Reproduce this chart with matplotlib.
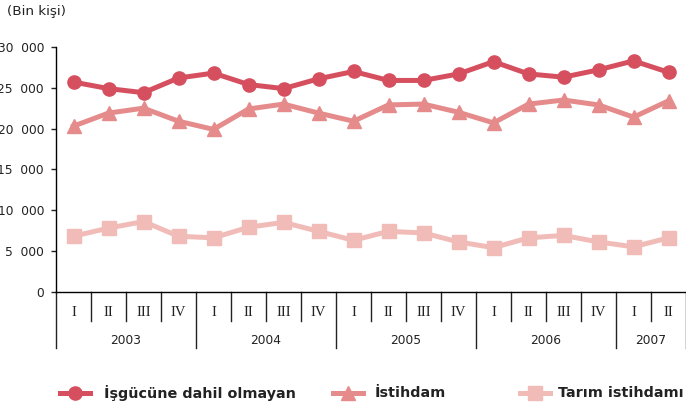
import matplotlib.pyplot as plt
from matplotlib.lines import Line2D
import matplotlib.transforms as mtransforms

# veri (bin kisi)
quarters = ['I', 'II', 'III', 'IV'] * 4 + ['I', 'II']
years = ['2003', '2004', '2005', '2006', '2007']
year_len = [4, 4, 4, 4, 2]

isgucu_disi = [25700, 24900, 24400, 26200, 26800, 25400, 24900, 26100, 27000,
               25900, 25900, 26700, 28200, 26700, 26300, 27200, 28300, 26900]
istihdam = [20300, 21900, 22500, 20900, 19900, 22400, 23000, 21900, 20900,
            22900, 23000, 22000, 20700, 23000, 23500, 22900, 21400, 23400]
tarim = [6800, 7800, 8600, 6800, 6600, 7900, 8500, 7400, 6300,
         7400, 7200, 6100, 5400, 6600, 6900, 6100, 5500, 6600]

names = ['İşgücüne dahil olmayan', 'İstihdam', 'Tarım istihdamı']
colors = ['#d64f5f', '#e58b8b', '#f1bcb8']
markers = ['o', '^', 's']

W, H = 686, 408
fig = plt.figure(figsize=(W / 100, H / 100), dpi=100)
ax_left, ax_right, ax_top, ax_bot = 56, 686, 47, 291.7
ax = fig.add_axes([ax_left / W, (H - ax_bot) / H, (ax_right - ax_left) / W,
                   (ax_bot - ax_top) / H])

x = [i + 0.5 for i in range(len(quarters))]
for vals, c, m in zip([isgucu_disi, istihdam, tarim], colors, markers):
    ax.plot(x, vals, color=c, lw=3.6, marker=m, markersize=9.5,
            markeredgecolor=c, clip_on=False, zorder=3)

ax.set_xlim(0, len(quarters))
ax.set_ylim(0, 30000)
ax.set_yticks(range(0, 30001, 5000))
ax.set_yticklabels(['0'] + ['{}  000'.format(v // 1000) for v in range(5000, 30001, 5000)])
ax.tick_params(axis='y', length=3.6, width=1, pad=5, labelsize=8.8, color='#222222',
               labelcolor='#222222')
ax.set_xticks([])
for s in ['top', 'right']:
    ax.spines[s].set_visible(False)
ax.spines['left'].set_linewidth(1)
ax.spines['bottom'].set_linewidth(1)

# kategori ekseni
ah = ax_bot - ax_top
tr = mtransforms.blended_transform_factory(ax.transData, ax.transAxes)
def fy(py):
    return (ax_bot - py) / ah

boundaries = [0]
for n in year_len:
    boundaries.append(boundaries[-1] + n)
for i in range(len(quarters) + 1):
    bottom = fy(348) if i in boundaries else fy(321)
    ax.plot([i, i], [0, bottom], color='#222222', lw=1, transform=tr, clip_on=False)
for i, q in enumerate(quarters):
    ax.text(i + 0.5, fy(312), q, transform=tr, ha='center', va='center',
            family='Liberation Serif', fontsize=10.5, color='#222222')
for k, yr in enumerate(years):
    ax.text((boundaries[k] + boundaries[k + 1]) / 2, fy(340), yr, transform=tr,
            ha='center', va='center', fontsize=8.8, color='#222222')

fig.text(7 / W, 1 - 11 / H, '(Bin kişi)', ha='left', va='center', fontsize=9.7, color='#222222')

# lejant
leg_y = 1 - 393 / H
leg_pos = [(60, 90, 104), (333, 363, 375), (520, 550, 558)]
for (x0, x1, tx), n, c, m in zip(leg_pos, names, colors, markers):
    fig.add_artist(Line2D([x0 / W, x1 / W], [leg_y, leg_y], color=c, lw=3.6,
                          transform=fig.transFigure))
    fig.add_artist(Line2D([(x0 + x1) / 2 / W], [leg_y], color=c, marker=m, markersize=9.5,
                          transform=fig.transFigure))
    fig.text(tx / W, leg_y, n, ha='left', va='center', fontsize=10.4, fontweight='bold',
             color='#222222')

fig.savefig('out.png', dpi=100)
